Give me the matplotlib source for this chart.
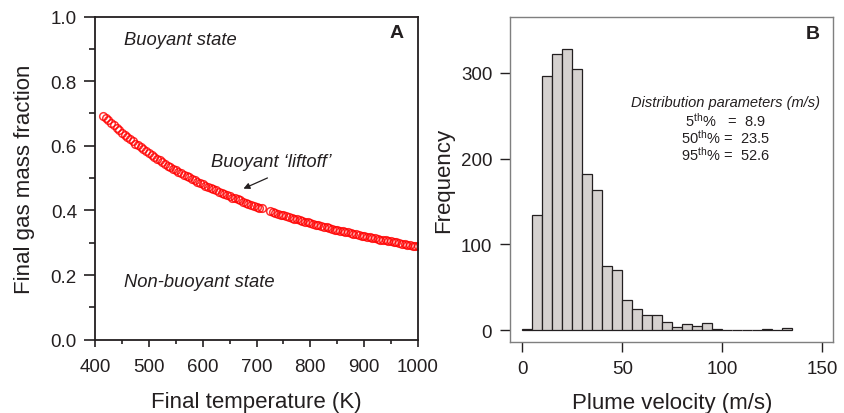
import matplotlib
matplotlib.use("Agg")
import matplotlib.pyplot as plt
import numpy as np

plt.rcParams['font.family'] = ['Liberation Sans', 'DejaVu Sans']
plt.rcParams['mathtext.fontset'] = 'custom'
plt.rcParams['mathtext.rm'] = 'Liberation Sans'
plt.rcParams['mathtext.it'] = 'Liberation Sans:italic'

dark = '#231f20'

# panel A: final temperature (K) vs final gas mass fraction
temp = [415, 420, 425, 430, 435, 440, 445, 450, 455, 460, 465, 470, 475, 480,
        485, 490, 495, 500, 505, 510, 515, 520, 525, 530, 535, 540, 545, 550,
        555, 560, 565, 570, 575, 580, 585, 590, 595, 600, 605, 610, 615, 620,
        625, 630, 635, 640, 645, 650, 655, 660, 665, 670, 675, 680, 685, 690,
        695, 700, 705, 710,
        725, 730, 735, 740, 745, 750, 755, 760, 765, 770, 775, 780, 785, 790,
        795, 800, 805, 810, 815, 820, 825, 830, 835, 840, 845, 850, 855, 860,
        865, 870, 875, 880, 885, 890, 895, 900, 905, 910, 915, 920, 925, 930,
        935, 940, 945, 950, 955, 960, 965, 970, 975, 980, 985, 990, 995, 1000]
gas_frac = [0.692, 0.687, 0.679, 0.671, 0.663, 0.656, 0.648, 0.641, 0.634,
            0.627, 0.620, 0.614, 0.607, 0.601, 0.595, 0.589, 0.583, 0.577,
            0.571, 0.566, 0.560, 0.555, 0.550, 0.544, 0.539, 0.534, 0.529,
            0.525, 0.520, 0.515, 0.511, 0.506, 0.502, 0.497, 0.493, 0.489,
            0.485, 0.481, 0.477, 0.473, 0.469, 0.465, 0.462, 0.458, 0.454,
            0.451, 0.447, 0.444, 0.440, 0.437, 0.434, 0.431, 0.427, 0.424,
            0.421, 0.418, 0.415, 0.412, 0.409, 0.406,
            0.398, 0.395, 0.393, 0.390, 0.387, 0.385, 0.382, 0.380, 0.377,
            0.375, 0.372, 0.370, 0.368, 0.365, 0.363, 0.361, 0.358, 0.356,
            0.354, 0.352, 0.350, 0.348, 0.346, 0.343, 0.341, 0.339, 0.337,
            0.335, 0.334, 0.332, 0.330, 0.328, 0.326, 0.324, 0.322, 0.321,
            0.319, 0.317, 0.315, 0.314, 0.312, 0.310, 0.309, 0.307, 0.305,
            0.304, 0.302, 0.301, 0.299, 0.297, 0.296, 0.294, 0.293, 0.291,
            0.290, 0.289]

# panel B: histogram of plume velocity, 5 m/s bins
bin_edges = list(range(0, 140, 5))
counts = [1, 134, 297, 322, 328, 305, 182, 163, 75, 70, 35, 25, 17, 17, 9, 4,
          7, 5, 8, 1, 0.5, 0.5, 0.5, 0.5, 1, 0.5, 2]

fig = plt.figure(figsize=(8.44, 4.14), dpi=100)
axA = fig.add_axes([0.1126, 0.177, 0.3827, 0.7807])
axB = fig.add_axes([0.6046, 0.1722, 0.3827, 0.7836])

# ---- A
axA.plot(temp, gas_frac, linestyle='none', marker='o', markersize=5.5,
         markerfacecolor='none', markeredgecolor='#ff0000', markeredgewidth=1.1,
         alpha=0.8)
axA.set_xlim(400, 1000)
axA.set_ylim(0, 1)
axA.set_xticks(np.arange(400, 1001, 100))
axA.set_xticks(np.arange(450, 1000, 100), minor=True)
axA.set_yticks(np.arange(0, 1.01, 0.2))
axA.set_yticks(np.arange(0.1, 1.0, 0.2), minor=True)
axA.set_yticklabels(['0.0', '0.2', '0.4', '0.6', '0.8', '1.0'])
axA.tick_params(axis='x', which='major', length=5, width=1.2, pad=8,
                labelsize=13.5, color=dark, labelcolor=dark)
axA.tick_params(axis='x', which='minor', length=3, width=1.2, color=dark)
axA.tick_params(axis='y', which='major', length=8, width=1.2, pad=5,
                labelsize=13.5, color=dark, labelcolor=dark)
axA.tick_params(axis='y', which='minor', length=4, width=1.2, color=dark)
for s in axA.spines.values():
    s.set_color(dark)
    s.set_linewidth(1.3)
axA.set_xlabel('Final temperature (K)', fontsize=16, color=dark, labelpad=12)
axA.set_ylabel('Final gas mass fraction', fontsize=16, color=dark, labelpad=11)
axA.text(454, 0.93, 'Buoyant state', style='italic', fontsize=13.2,
         color=dark, va='center')
axA.text(454, 0.18, 'Non-buoyant state', style='italic', fontsize=13.2,
         color=dark, va='center')
axA.text(615, 0.55, 'Buoyant \u2018liftoff\u2019', style='italic',
         fontsize=13.2, color=dark, va='center')
axA.annotate('', xy=(671, 0.464), xytext=(725, 0.504),
             arrowprops=dict(arrowstyle='-|>', color=dark, lw=0.9,
                             mutation_scale=9))
axA.text(0.935, 0.951, 'A', transform=axA.transAxes, fontsize=14,
         fontweight='bold', color=dark, ha='center', va='center')

# ---- B
widths = [5] * len(counts)
axB.bar(bin_edges[:-1], counts, width=widths, align='edge', color='#d5d1cf',
        edgecolor=dark, linewidth=0.9)
axB.set_xlim(-6, 155.5)
axB.set_ylim(-13.6, 365)
axB.set_xticks([0, 50, 100, 150])
axB.set_yticks([0, 100, 200, 300])
axB.tick_params(axis='both', length=7, width=1.0, pad=6, labelsize=13.5,
                color=dark, labelcolor=dark)
for s in axB.spines.values():
    s.set_color('#7f7f7f')
    s.set_linewidth(1.0)
axB.set_xlabel('Plume velocity (m/s)', fontsize=16, color=dark, labelpad=11)
axB.set_ylabel('Frequency', fontsize=16, color=dark, labelpad=5)
axB.text(101.5, 266, 'Distribution parameters (m/s)', style='italic',
         fontsize=10.5, color=dark, ha='center', va='center')
axB.text(101.5, 246, r'5$^{\mathrm{th}}$%   =  8.9', fontsize=10.5,
         color=dark, ha='center', va='center')
axB.text(101.5, 226, r'50$^{\mathrm{th}}$% =  23.5', fontsize=10.5,
         color=dark, ha='center', va='center')
axB.text(101.5, 206, r'95$^{\mathrm{th}}$% =  52.6', fontsize=10.5,
         color=dark, ha='center', va='center')
axB.text(0.937, 0.949, 'B', transform=axB.transAxes, fontsize=14,
         fontweight='bold', color=dark, ha='center', va='center')

fig.savefig('out.png', dpi=100)
